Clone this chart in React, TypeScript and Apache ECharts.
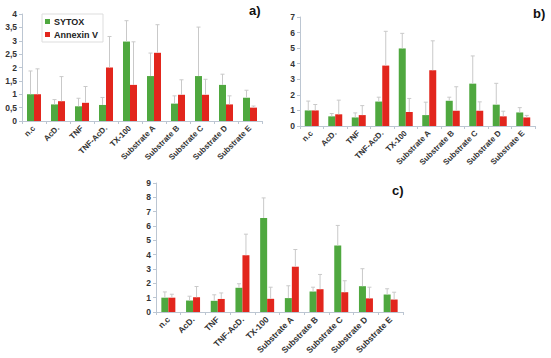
import React, { useEffect, useRef } from "react";
import * as echarts from "echarts";

const categories = ["n.c", "AcD.", "TNF", "TNF-AcD.", "TX-100", "Substrate A", "Substrate B", "Substrate C", "Substrate D", "Substrate E"];

const sytoxA = [1.0, 0.62, 0.55, 0.6, 2.97, 1.68, 0.65, 1.68, 1.35, 0.87];
const annexinA = [1.0, 0.74, 0.68, 2.0, 1.35, 2.55, 0.98, 0.98, 0.62, 0.5];
const sytoxErrTopA = [1.87, 0.8, 0.85, 0.88, 3.75, 2.54, 0.94, 3.51, 1.75, 1.15];
const annexinErrTopA = [1.95, 1.66, 1.29, 3.16, 2.96, 3.6, 1.54, 1.56, 0.94, 0.56];

const sytoxB = [1.0, 0.62, 0.55, 1.57, 4.98, 0.7, 1.62, 2.72, 1.37, 0.87];
const annexinB = [1.0, 0.75, 0.7, 3.88, 0.9, 3.58, 0.98, 0.98, 0.62, 0.55];
const sytoxErrTopB = [1.6, 0.8, 0.84, 1.85, 5.95, 1.53, 1.85, 4.5, 2.74, 1.18];
const annexinErrTopB = [1.38, 1.66, 1.31, 6.08, 1.77, 5.47, 2.52, 1.55, 0.95, 0.68];

const sytoxC = [1.0, 0.8, 0.78, 1.69, 6.56, 0.97, 1.43, 4.64, 1.8, 1.22];
const annexinC = [1.0, 1.03, 0.91, 3.96, 0.92, 3.16, 1.59, 1.38, 0.95, 0.87];
const sytoxErrTopC = [1.4, 1.1, 1.2, 1.97, 7.96, 1.83, 1.73, 6.04, 3.02, 1.62];
const annexinErrTopC = [1.24, 1.78, 1.33, 5.43, 1.73, 4.36, 2.62, 2.18, 1.73, 1.38];

const panelLabels = ["a)", "b)", "c)"];

const GREEN = "#4fa83f";
const RED = "#e2261d";
const AXIS = "#bcc6d2";
const ERR = "#c9c9c9";
const FONT = "Liberation Sans, Arial, sans-serif";
const BAR_W = 7;

function errSeries(name: string, idx: number, vals: number[], tops: number[], offset: number) {
  return {
    type: "custom",
    name,
    xAxisIndex: idx,
    yAxisIndex: idx,
    z: 3,
    data: vals.map((v, i) => [i, v, tops[i]]),
    renderItem: (params: any, api: any) => {
      const p0 = api.coord([api.value(0), api.value(1)]);
      const p1 = api.coord([api.value(0), api.value(2)]);
      const x = p0[0] + offset;
      return {
        type: "group",
        children: [
          { type: "line", shape: { x1: x, y1: p0[1], x2: x, y2: p1[1] }, style: { stroke: ERR, lineWidth: 1 } },
          { type: "line", shape: { x1: x - 2, y1: p1[1], x2: x + 2, y2: p1[1] }, style: { stroke: ERR, lineWidth: 1 } },
        ],
      };
    },
  };
}

export default function App() {
  const ref = useRef<HTMLDivElement>(null);
  useEffect(() => {
    if (!ref.current) return;
    const chart = echarts.init(ref.current, undefined, { renderer: "svg" });
    const grids = [
      { left: 22, top: 14, width: 240, height: 107 },
      { left: 300, top: 17, width: 235, height: 109 },
      { left: 156, top: 183, width: 247, height: 129 },
    ];
    const yCfg = [
      { max: 4, interval: 0.5 },
      { max: 7, interval: 1 },
      { max: 9, interval: 1 },
    ];
    const labelSize = [8, 8, 8.5];
    const xAxis = grids.map((_, i) => ({
      type: "category",
      gridIndex: i,
      data: categories,
      axisLine: { lineStyle: { color: AXIS } },
      axisTick: { show: true, length: 3, lineStyle: { color: AXIS } },
      axisLabel: {
        rotate: 45,
        interval: 0,
        fontSize: labelSize[i],
        fontWeight: "bold",
        color: "#333",
        fontFamily: FONT,
        margin: 6,
      },
    }));
    const yAxis = grids.map((_, i) => ({
      type: "value",
      gridIndex: i,
      min: 0,
      max: yCfg[i].max,
      interval: yCfg[i].interval,
      splitLine: { show: false },
      axisLine: { show: true, lineStyle: { color: AXIS } },
      axisTick: { show: true, length: 3, lineStyle: { color: AXIS } },
      axisLabel: {
        fontSize: 8.5,
        fontWeight: "bold",
        color: "#333",
        fontFamily: FONT,
        margin: 5,
        formatter: (v: number) => String(v).replace(".", ","),
      },
    }));
    const sets = [
      [sytoxA, annexinA, sytoxErrTopA, annexinErrTopA],
      [sytoxB, annexinB, sytoxErrTopB, annexinErrTopB],
      [sytoxC, annexinC, sytoxErrTopC, annexinErrTopC],
    ];
    const series: any[] = [];
    sets.forEach((s, i) => {
      series.push({
        type: "bar",
        name: "SYTOX",
        xAxisIndex: i,
        yAxisIndex: i,
        data: s[0],
        barWidth: BAR_W,
        barGap: "0%",
        itemStyle: { color: GREEN },
      });
      series.push({
        type: "bar",
        name: "Annexin V",
        xAxisIndex: i,
        yAxisIndex: i,
        data: s[1],
        barWidth: BAR_W,
        barGap: "0%",
        itemStyle: { color: RED },
      });
      series.push(errSeries("errS" + i, i, s[0], s[2], -BAR_W / 2));
      series.push(errSeries("errA" + i, i, s[1], s[3], BAR_W / 2));
    });
    chart.setOption({
      animation: false,
      backgroundColor: "#fff",
      grid: grids,
      xAxis,
      yAxis,
      series,
      legend: {
        data: ["SYTOX", "Annexin V"],
        orient: "vertical",
        left: 42,
        top: 14,
        itemWidth: 5,
        itemHeight: 5,
        itemGap: 4,
        padding: [3, 5, 3, 3],
        borderColor: "#dddddd",
        borderWidth: 1,
        icon: "rect",
        textStyle: { fontSize: 9, fontWeight: "bold", color: "#222", fontFamily: FONT, padding: [0, 0, 0, -1] },
      },
      graphic: [
        { type: "text", left: 249, top: 4, style: { text: panelLabels[0], font: "bold 13px " + FONT, fill: "#111" } },
        { type: "text", left: 533, top: 7, style: { text: panelLabels[1], font: "bold 13px " + FONT, fill: "#111" } },
        { type: "text", left: 392, top: 184, style: { text: panelLabels[2], font: "bold 13px " + FONT, fill: "#111" } },
      ],
    });
    return () => chart.dispose();
  }, []);
  return <div ref={ref} style={{ position: "fixed", left: 0, top: 0, width: 551, height: 358 }} />;
}
